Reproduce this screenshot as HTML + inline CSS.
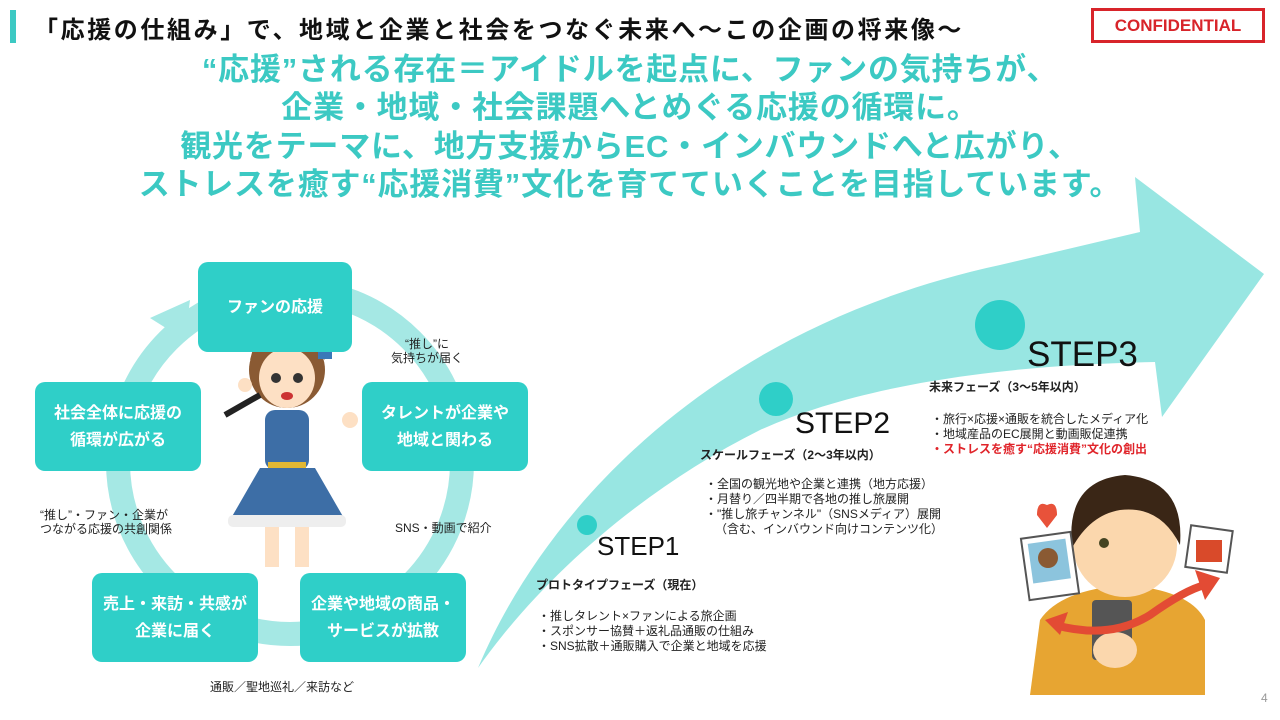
<!DOCTYPE html>
<html><head><meta charset="utf-8"><style>
*{margin:0;padding:0;box-sizing:border-box}
body{width:1280px;height:720px;background:#fff;position:relative;overflow:hidden;font-family:"Liberation Sans","Noto Sans CJK JP",sans-serif;color:#222}
.abs{position:absolute}
.box{position:absolute;background:#2fcfc8;border-radius:10px;color:#fff;font-weight:bold;font-size:16px;line-height:27px;display:flex;align-items:center;justify-content:center;text-align:center}
.s{font-size:12px;line-height:14px;color:#222}
.head{font-weight:bold;font-size:31px;color:#3cc9c3;text-align:center;width:1280px;left:0;line-height:38.5px;letter-spacing:0.8px}
.step{color:#111}
.ph{font-size:12px;font-weight:bold}
.li{font-size:12px;line-height:15px}
</style></head><body>
<div class="abs" style="left:10px;top:10px;width:6px;height:33px;background:#3cc9c3"></div>
<div class="abs" style="left:34px;top:10px;font-size:24px;font-weight:bold;color:#111;letter-spacing:2.6px;white-space:nowrap">「応援の仕組み」で、地域と企業と社会をつなぐ未来へ～この企画の将来像～</div>
<div class="abs" style="left:1091px;top:8px;width:174px;height:35px;border:3px solid #d8242a;color:#d8242a;font-weight:bold;font-size:17px;display:flex;align-items:center;justify-content:center">CONFIDENTIAL</div>
<div class="abs head" style="top:51px;left:-10px">“応援”される存在＝アイドルを起点に、ファンの気持ちが、</div>
<div class="abs head" style="top:89px;left:-10px">企業・地域・社会課題へとめぐる応援の循環に。</div>
<div class="abs head" style="top:128px;left:-10px">観光をテーマに、地方支援からEC・インバウンドへと広がり、</div>
<div class="abs head" style="top:166px;left:-10px">ストレスを癒す“応援消費”文化を育てていくことを目指しています。</div>

<svg class="abs" style="left:0;top:0" width="1280" height="720">
<path d="M478,668 C540,520 700,330 1000,265 L1140,232 L1135,177 L1264,274 L1162,417 L1155,362 C1000,365 860,385 760,430 C640,490 540,580 478,668 Z" fill="#98e6e2"/>
<circle cx="290" cy="462" r="172" fill="none" stroke="#a5e8e4" stroke-width="24"/>
<polygon points="150,318 190,300 185,340" fill="#a5e8e4"/>
<circle cx="587" cy="525" r="10" fill="#2fcfc8"/>
<circle cx="776" cy="399" r="17" fill="#2fcfc8"/>
<circle cx="1000" cy="325" r="25" fill="#2fcfc8"/>
<g>
<ellipse cx="287" cy="370" rx="38" ry="38" fill="#8a5a33"/>
<ellipse cx="287" cy="378" rx="28" ry="30" fill="#fde0c4"/>
<path d="M250,360 Q287,320 325,360 L320,345 Q287,318 254,345Z" fill="#8a5a33"/>
<rect x="318" y="345" width="14" height="14" fill="#3a78b8"/>
<circle cx="276" cy="378" r="5" fill="#333"/><circle cx="298" cy="378" r="5" fill="#333"/>
<ellipse cx="287" cy="396" rx="6" ry="4" fill="#c33"/>
<rect x="265" y="410" width="44" height="60" rx="10" fill="#3d6ea6"/>
<rect x="268" y="462" width="38" height="6" fill="#e2b733"/>
<path d="M260,468 L315,468 L345,520 L230,520Z" fill="#3d6ea6"/>
<rect x="228" y="515" width="118" height="12" rx="5" fill="#eee"/>
<rect x="265" y="527" width="14" height="40" fill="#fde0c4"/><rect x="295" y="527" width="14" height="40" fill="#fde0c4"/>
<line x1="225" y1="415" x2="260" y2="395" stroke="#222" stroke-width="6"/>
<circle cx="245" cy="385" r="7" fill="#fde0c4"/><circle cx="350" cy="420" r="8" fill="#fde0c4"/>
</g>
<g>
<path d="M1030,695 L1040,620 Q1060,590 1125,585 Q1190,590 1205,620 L1205,695Z" fill="#e7a532"/>
<circle cx="1125" cy="545" r="52" fill="#fbd7ad"/>
<path d="M1072,548 Q1065,480 1125,475 Q1185,480 1180,545 Q1160,505 1120,510 Q1090,515 1072,548Z" fill="#3a2616"/>
<circle cx="1104" cy="543" r="5" fill="#442"/>
<rect x="1092" y="600" width="40" height="60" rx="4" fill="#555"/>
<ellipse cx="1115" cy="650" rx="22" ry="18" fill="#fbd7ad"/>
<rect x="1025" y="535" width="50" height="62" fill="#fff" stroke="#555" stroke-width="2" transform="rotate(-8 1050 566)"/>
<rect x="1031" y="541" width="38" height="40" fill="#8cc4dd" transform="rotate(-8 1050 566)"/>
<circle cx="1048" cy="558" r="10" fill="#8a5a33"/>
<path d="M1037,515 Q1037,500 1047,505 Q1057,500 1057,515 L1047,528Z" fill="#e8523a"/>
<rect x="1188" y="528" width="42" height="42" fill="#fff" stroke="#555" stroke-width="2" transform="rotate(8 1209 549)"/>
<rect x="1196" y="540" width="26" height="22" fill="#d94a2a"/>
<path d="M1055,625 Q1110,640 1150,615 Q1185,590 1205,585" fill="none" stroke="#e34b34" stroke-width="8"/>
<polygon points="1195,570 1220,578 1205,600" fill="#e34b34"/>
<polygon points="1045,620 1068,612 1060,635" fill="#e34b34"/>
</g>
</svg>

<div class="box" style="left:198px;top:262px;width:154px;height:90px">ファンの応援</div>
<div class="box" style="left:35px;top:382px;width:166px;height:89px">社会全体に応援の<br>循環が広がる</div>
<div class="box" style="left:362px;top:382px;width:166px;height:89px">タレントが企業や<br>地域と関わる</div>
<div class="box" style="left:92px;top:573px;width:166px;height:89px">売上・来訪・共感が<br>企業に届く</div>
<div class="box" style="left:300px;top:573px;width:166px;height:89px">企業や地域の商品・<br>サービスが拡散</div>

<div class="abs s" style="left:391px;top:337px;text-align:center">“推し”に<br>気持ちが届く</div>
<div class="abs s" style="left:40px;top:508px">“推し”・ファン・企業が<br>つながる応援の共創関係</div>
<div class="abs s" style="left:395px;top:521px">SNS・動画で紹介</div>
<div class="abs s" style="left:210px;top:680px">通販／聖地巡礼／来訪など</div>

<div class="abs step" style="left:597px;top:531px;font-size:26px">STEP1</div>
<div class="abs ph" style="left:536px;top:576px">プロトタイプフェーズ（現在）</div>
<div class="abs li" style="left:538px;top:609px">・推しタレント×ファンによる旅企画<br>・スポンサー協賛＋返礼品通販の仕組み<br>・SNS拡散＋通販購入で企業と地域を応援</div>

<div class="abs step" style="left:795px;top:407px;font-size:30px">STEP2</div>
<div class="abs ph" style="left:700px;top:446px">スケールフェーズ（2～3年以内）</div>
<div class="abs li" style="left:705px;top:477px">・全国の観光地や企業と連携（地方応援）<br>・月替り／四半期で各地の推し旅展開<br>・"推し旅チャンネル"（SNSメディア）展開<br>&nbsp;&nbsp;&nbsp;（含む、インバウンド向けコンテンツ化）</div>

<div class="abs step" style="left:1027px;top:335px;font-size:35px">STEP3</div>
<div class="abs ph" style="left:929px;top:378px">未来フェーズ（3～5年以内）</div>
<div class="abs li" style="left:931px;top:412px">・旅行×応援×通販を統合したメディア化<br>・地域産品のEC展開と動画販促連携<br><span style="color:#e0242a;font-weight:bold">・ストレスを癒す“応援消費”文化の創出</span></div>

<div class="abs" style="left:1261px;top:691px;font-size:12px;color:#999">4</div>
</body></html>
